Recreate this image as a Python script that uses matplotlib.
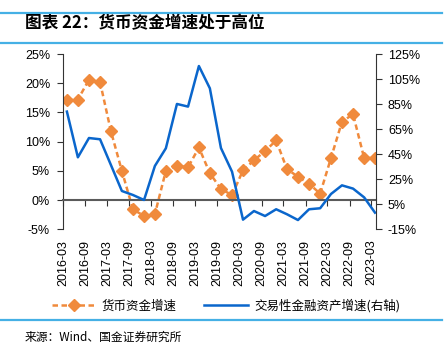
import matplotlib
matplotlib.use("Agg")
import matplotlib.pyplot as plt
import matplotlib.dates as mdates
from matplotlib.lines import Line2D
import pandas as pd

plt.rcParams['font.family'] = ['Liberation Sans', 'Noto Sans CJK SC', 'DejaVu Sans']

# ---- data ----
quarters = pd.period_range('2016Q1', '2023Q1', freq='Q')
dates = quarters.to_timestamp(how='end').normalize()
cash_growth = [17.2, 17.2, 20.6, 20.2, 11.8, 5.0, -1.6, -2.7, -2.4, 5.0, 5.9, 5.6, 9.0, 4.6, 1.9,
               0.85, 5.1, 6.8, 8.4, 10.2, 5.3, 4.0, 2.8, 1.1, 7.2, 13.4, 14.7, 7.2, 7.2]
trading_growth = [79.0, 42.5, 57.9, 56.9, 36.4, 15.6, 12.4, 8.4, 35.6, 49.7, 85.1, 83.0, 115.4, 97.6, 49.9,
                  31.0, -7.3, -0.4, -4.4, 1.0, -3.0, -7.6, 1.0, 1.8, 13.2, 20.1, 17.5, 10.5, -1.7]
left_ticks = [-5, 0, 5, 10, 15, 20, 25]
right_ticks = [-15, 5, 25, 45, 65, 85, 105, 125]
label_cash = '货币资金增速'
label_trading = '交易性金融资产增速(右轴)'
title = '图表 22：货币资金增速处于高位'
source = '来源：Wind、国金证券研究所'

ORANGE = '#F08A3C'
BLUE = '#0A66CC'
LINEBLUE = '#45B0E5'

fig = plt.figure(figsize=(4.46, 3.48), dpi=100)
ax = fig.add_axes([0.1419, 0.3411, 0.8424 - 0.1419, 0.8448 - 0.3411])
ax2 = ax.twinx()

l1, = ax.plot(dates, cash_growth, color=ORANGE, lw=1.8, linestyle=(0, (2.2, 1.4)),
              marker='D', markersize=6, markeredgecolor=ORANGE, markerfacecolor=ORANGE)
l2, = ax2.plot(dates, trading_growth, color=BLUE, lw=1.8)

ax.set_ylim(-5, 25)
ax.set_yticks(left_ticks)
ax.set_yticklabels([f'{v}%' for v in left_ticks])
ax2.set_ylim(-15, 125)
ax2.set_yticks(right_ticks)
ax2.set_yticklabels([f'{v}%' for v in right_ticks])

ax.set_xlim(pd.Timestamp('2016-03-01'), pd.Timestamp('2023-04-06'))
ax.xaxis.set_major_locator(mdates.MonthLocator(bymonth=[3, 9]))
ax.xaxis.set_major_formatter(mdates.DateFormatter('%Y-%m'))

for s in ['top']:
    ax.spines[s].set_visible(False)
ax.spines['right'].set_visible(False)
ax.spines['bottom'].set_position(('data', 0))
ax.spines['bottom'].set_color('#5A5A5A')
ax.spines['bottom'].set_linewidth(1.5)
ax.spines['left'].set_color('#333333')
ax.spines['left'].set_linewidth(0.8)
for s in ['top', 'bottom', 'left']:
    ax2.spines[s].set_visible(False)
ax2.spines['right'].set_color('#333333')
ax2.spines['right'].set_linewidth(0.8)

ax.tick_params(axis='x', direction='out', length=4, width=0.8, color='#333333',
               labelsize=9, pad=24.5, labelrotation=90)
ax.tick_params(axis='y', direction='out', length=4, width=0.8, color='#333333',
               labelsize=9, pad=5.5)
ax2.tick_params(axis='y', direction='out', length=4, width=0.8, color='#333333',
                labelsize=9, pad=4.8)

# title and decoration lines
for yy in [1 - 13 / 348, 1 - 43 / 348, 1 - 320 / 348]:
    fig.add_artist(Line2D([0.0, 0.99], [yy, yy], color=LINEBLUE, lw=1.6, transform=fig.transFigure))
fig.text(25 / 446, 1 - 23 / 348, title, fontsize=12, fontweight='bold', style='italic',
         family=['Noto Sans CJK SC', 'DejaVu Sans'], va='center', ha='left')
fig.text(25 / 446, 1 - 337 / 348, source, fontsize=8.5,
         family=['Noto Sans CJK SC', 'DejaVu Sans'], va='center', ha='left')

fig.legend([l1, l2], [label_cash, label_trading], loc='center', bbox_to_anchor=(0.507, 1 - 306 / 348),
           ncol=2, frameon=False, handlelength=3.5, handletextpad=0.5, columnspacing=2.2,
           prop={'family': ['Noto Sans CJK SC', 'DejaVu Sans'], 'size': 9})

fig.savefig('out.png', dpi=100)
